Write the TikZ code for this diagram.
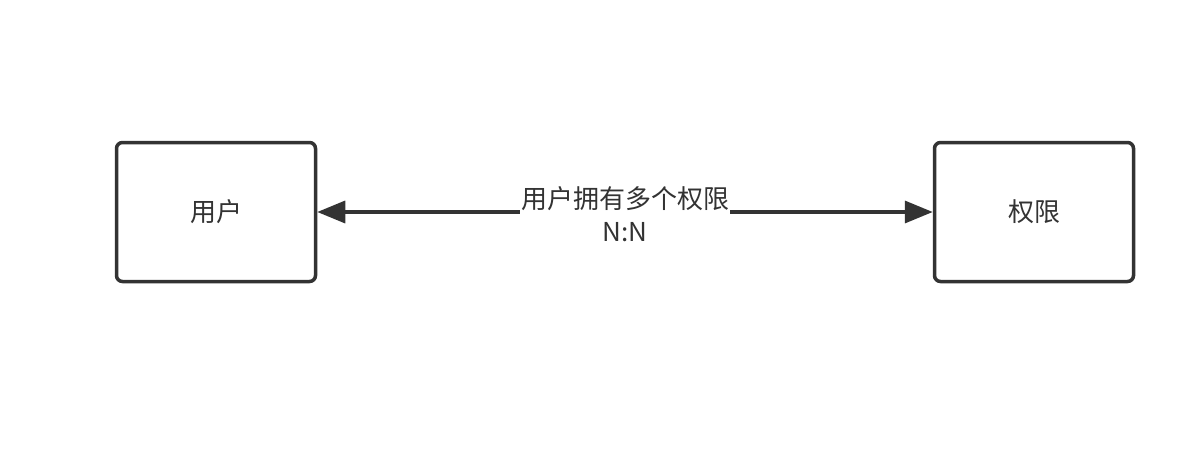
\documentclass[tikz,border=0pt]{standalone}
\usepackage{fontspec}
\setmainfont{Noto Sans CJK SC}
\usetikzlibrary{arrows.meta}
\definecolor{ink}{HTML}{333333}
\tikzset{
  entity/.style={draw=ink, line width=3.5pt, rounded corners=6pt, minimum width=199pt, minimum height=139pt, inner sep=0pt, font=\fontsize{26}{31}\selectfont, text=ink},
  link/.style={draw=ink, line width=3.5pt, {Triangle[length=28pt,width=22pt]}-{Triangle[length=28pt,width=22pt]}},
  lbl/.style={fill=white, inner sep=1pt, align=center, font=\fontsize{26}{33}\selectfont, text=ink}
}
\begin{document}
\begin{tikzpicture}[x=1pt,y=-1pt]
\useasboundingbox (0,0) rectangle (1198,460);
\node[entity] (user) at (216,212) {用户};
\node[entity] (perm) at (1034,212) {权限};
\draw[link] (user.east) -- (perm.west) node[lbl, pos=0.5, yshift=-2pt] (lab) {用户拥有多个权限\\N:N};
\end{tikzpicture}
\end{document}
